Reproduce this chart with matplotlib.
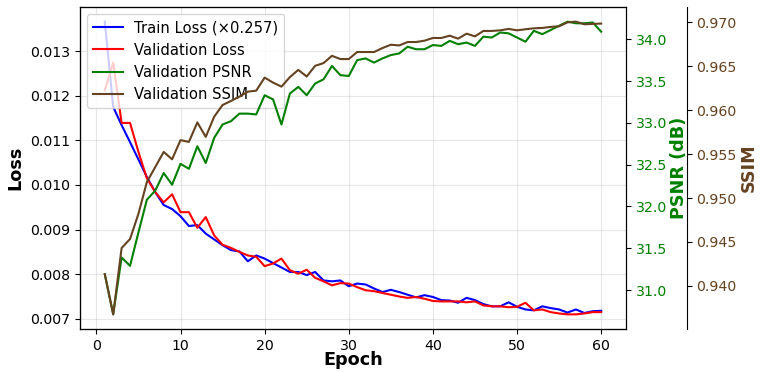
import matplotlib
matplotlib.use("Agg")
import matplotlib.pyplot as plt

# valores (train loss já multiplicada por 0.257)
epocas = list(range(1, 61))
TRAIN_SCALE = 0.257

train_loss = [
    0.01366, 0.01175, 0.01134, 0.01096, 0.01057, 0.01018, 0.00984, 0.00955, 0.00946, 0.00930,
    0.00908, 0.00910, 0.00891, 0.00878, 0.00865, 0.00854, 0.00851, 0.00829, 0.00842, 0.00835,
    0.00825, 0.00815, 0.00805, 0.00805, 0.00798, 0.00805, 0.00786, 0.00784, 0.00786, 0.00773,
    0.00779, 0.00777, 0.00768, 0.00760, 0.00765, 0.00760, 0.00754, 0.00748, 0.00753, 0.00749,
    0.00742, 0.00741, 0.00736, 0.00747, 0.00742, 0.00733, 0.00728, 0.00728, 0.00737, 0.00727,
    0.00721, 0.00719, 0.00728, 0.00724, 0.00721, 0.00714, 0.00721, 0.00713, 0.00717, 0.00718,
]
val_loss = [
    0.01212, 0.01274, 0.01139, 0.01139, 0.01074, 0.01015, 0.00984, 0.00961, 0.00979, 0.00939,
    0.00939, 0.00904, 0.00928, 0.00887, 0.00866, 0.00859, 0.00850, 0.00842, 0.00839, 0.00818,
    0.00824, 0.00835, 0.00809, 0.00801, 0.00810, 0.00792, 0.00784, 0.00775, 0.00780, 0.00779,
    0.00771, 0.00764, 0.00762, 0.00758, 0.00754, 0.00750, 0.00747, 0.00749, 0.00745, 0.00740,
    0.00739, 0.00739, 0.00739, 0.00737, 0.00739, 0.00730, 0.00728, 0.00728, 0.00726, 0.00727,
    0.00736, 0.00719, 0.00721, 0.00715, 0.00712, 0.00710, 0.00710, 0.00712, 0.00715, 0.00715,
]
val_psnr = [
    31.19, 30.71, 31.39, 31.29, 31.69, 32.08, 32.19, 32.40, 32.26, 32.51,
    32.45, 32.72, 32.52, 32.82, 32.98, 33.02, 33.11, 33.11, 33.10, 33.33,
    33.28, 32.98, 33.35, 33.43, 33.33, 33.47, 33.52, 33.68, 33.57, 33.56,
    33.75, 33.77, 33.72, 33.77, 33.81, 33.83, 33.91, 33.88, 33.88, 33.93,
    33.92, 33.98, 33.94, 33.96, 33.92, 34.03, 34.02, 34.08, 34.07, 34.02,
    33.97, 34.10, 34.06, 34.11, 34.16, 34.21, 34.19, 34.19, 34.20, 34.09,
]
val_ssim = [
    0.94134, 0.93676, 0.94431, 0.94534, 0.94820, 0.95182, 0.95353, 0.95525, 0.95441, 0.95659,
    0.95639, 0.95861, 0.95696, 0.95925, 0.96059, 0.96105, 0.96154, 0.96211, 0.96222, 0.96371,
    0.96314, 0.96268, 0.96376, 0.96459, 0.96383, 0.96505, 0.96536, 0.96619, 0.96582, 0.96582,
    0.96662, 0.96662, 0.96662, 0.96707, 0.96745, 0.96737, 0.96776, 0.96776, 0.96791, 0.96822,
    0.96822, 0.96848, 0.96814, 0.96871, 0.96840, 0.96902, 0.96902, 0.96909, 0.96925, 0.96909,
    0.96921, 0.96932, 0.96936, 0.96948, 0.96955, 0.97000, 0.97008, 0.96978, 0.96982, 0.96986,
]

COR_PSNR = "green"
COR_SSIM = "#654321"
TAM_TICK = 10.2
TAM_LABEL = 12.7


def main():
    fig, ax = plt.subplots(figsize=(7.66, 3.72), dpi=100)
    fig.subplots_adjust(left=0.1044, right=0.8172, bottom=0.1156, top=0.9812)

    l1, = ax.plot(epocas, train_loss, color="blue", linewidth=1.5,
                  label=f"Train Loss (×{TRAIN_SCALE})")
    l2, = ax.plot(epocas, val_loss, color="red", linewidth=1.5, label="Validation Loss")
    ax.set_xlabel("Epoch", fontsize=TAM_LABEL, fontweight="bold", labelpad=-1)
    ax.set_ylabel("Loss", fontsize=TAM_LABEL, fontweight="bold")
    ax.tick_params(labelsize=TAM_TICK)
    ax.grid(True, alpha=0.3)

    ax2 = ax.twinx()
    l3, = ax2.plot(epocas, val_psnr, color=COR_PSNR, linewidth=1.5, label="Validation PSNR")
    ax2.set_ylabel("PSNR (dB)", color=COR_PSNR, fontsize=TAM_LABEL, fontweight="bold", labelpad=2)
    ax2.tick_params(axis="y", labelcolor=COR_PSNR, labelsize=TAM_TICK)

    ax3 = ax.twinx()
    ax3.spines["right"].set_position(("axes", 1.111))
    l4, = ax3.plot(epocas, val_ssim, color=COR_SSIM, linewidth=1.5, label="Validation SSIM")
    ax3.set_ylabel("SSIM", color=COR_SSIM, fontsize=TAM_LABEL, fontweight="bold", labelpad=2)
    ax3.tick_params(axis="y", labelcolor=COR_SSIM, labelsize=TAM_TICK)

    linhas = [l1, l2, l3, l4]
    ax.legend(linhas, [l.get_label() for l in linhas], loc="upper left", fontsize=10.6)

    fig.savefig("out.png", dpi=100)
    plt.close(fig)


if __name__ == "__main__":
    main()
